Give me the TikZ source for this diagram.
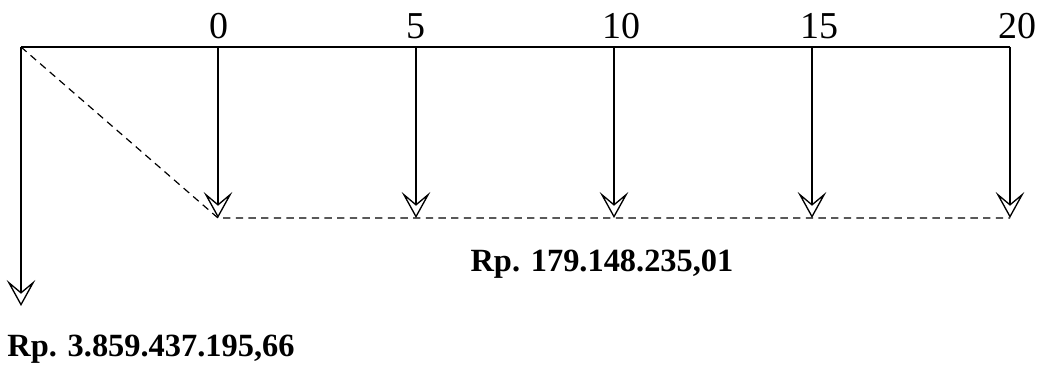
\documentclass[tikz,border=0pt]{standalone}
\usepackage{fontspec}
\setmainfont{Liberation Serif}
\usetikzlibrary{arrows.meta}
\begin{document}
\begin{tikzpicture}[x=0.75pt,y=-0.75pt,
  line width=1pt,
  flow/.style={-{Stealth[open,length=19.5pt,width=21.5pt,inset=9pt,line width=1pt]}},
  guide/.style={dash pattern=on 5.5pt off 4pt, line width=0.9pt},
  period/.style={font=\fontsize{28.5pt}{30pt}\selectfont, anchor=base, inner sep=0pt},
  amount/.style={font=\fontsize{24.3pt}{26pt}\selectfont\bfseries, anchor=base, inner sep=0pt}]
\useasboundingbox (0,0) rectangle (1045,366);

% time axis and cash flow points
\coordinate (o) at (21,47);
\coordinate (L) at (21,306);
\foreach \i/\x in {0/218,1/416,2/614,3/812,4/1010}{
  \coordinate (t\i) at (\x,47);
  \coordinate (b\i) at (\x,218);
}

% period labels
\node[period] (p0) at (219,39) {0};
\node[period] (p1) at (416,39) {5};
\node[period] (p2) at (621,39) {10};
\node[period] (p3) at (819,39) {15};
\node[period] (p4) at (1017,39) {20};

\draw (o) -- (t4);
\foreach \i in {0,...,4}{
  \draw[flow] (t\i) -- (b\i);
}
\draw[flow] (o) -- (L);

% discounting guide lines
\draw[guide] (o) -- (b0) -- (b4);

% amounts
\node[amount] (pv) at (602,272) {Rp. 179.148.235,01};
\node[amount] (fv) at (151,357) {Rp. 3.859.437.195,66};
\end{tikzpicture}
\end{document}
